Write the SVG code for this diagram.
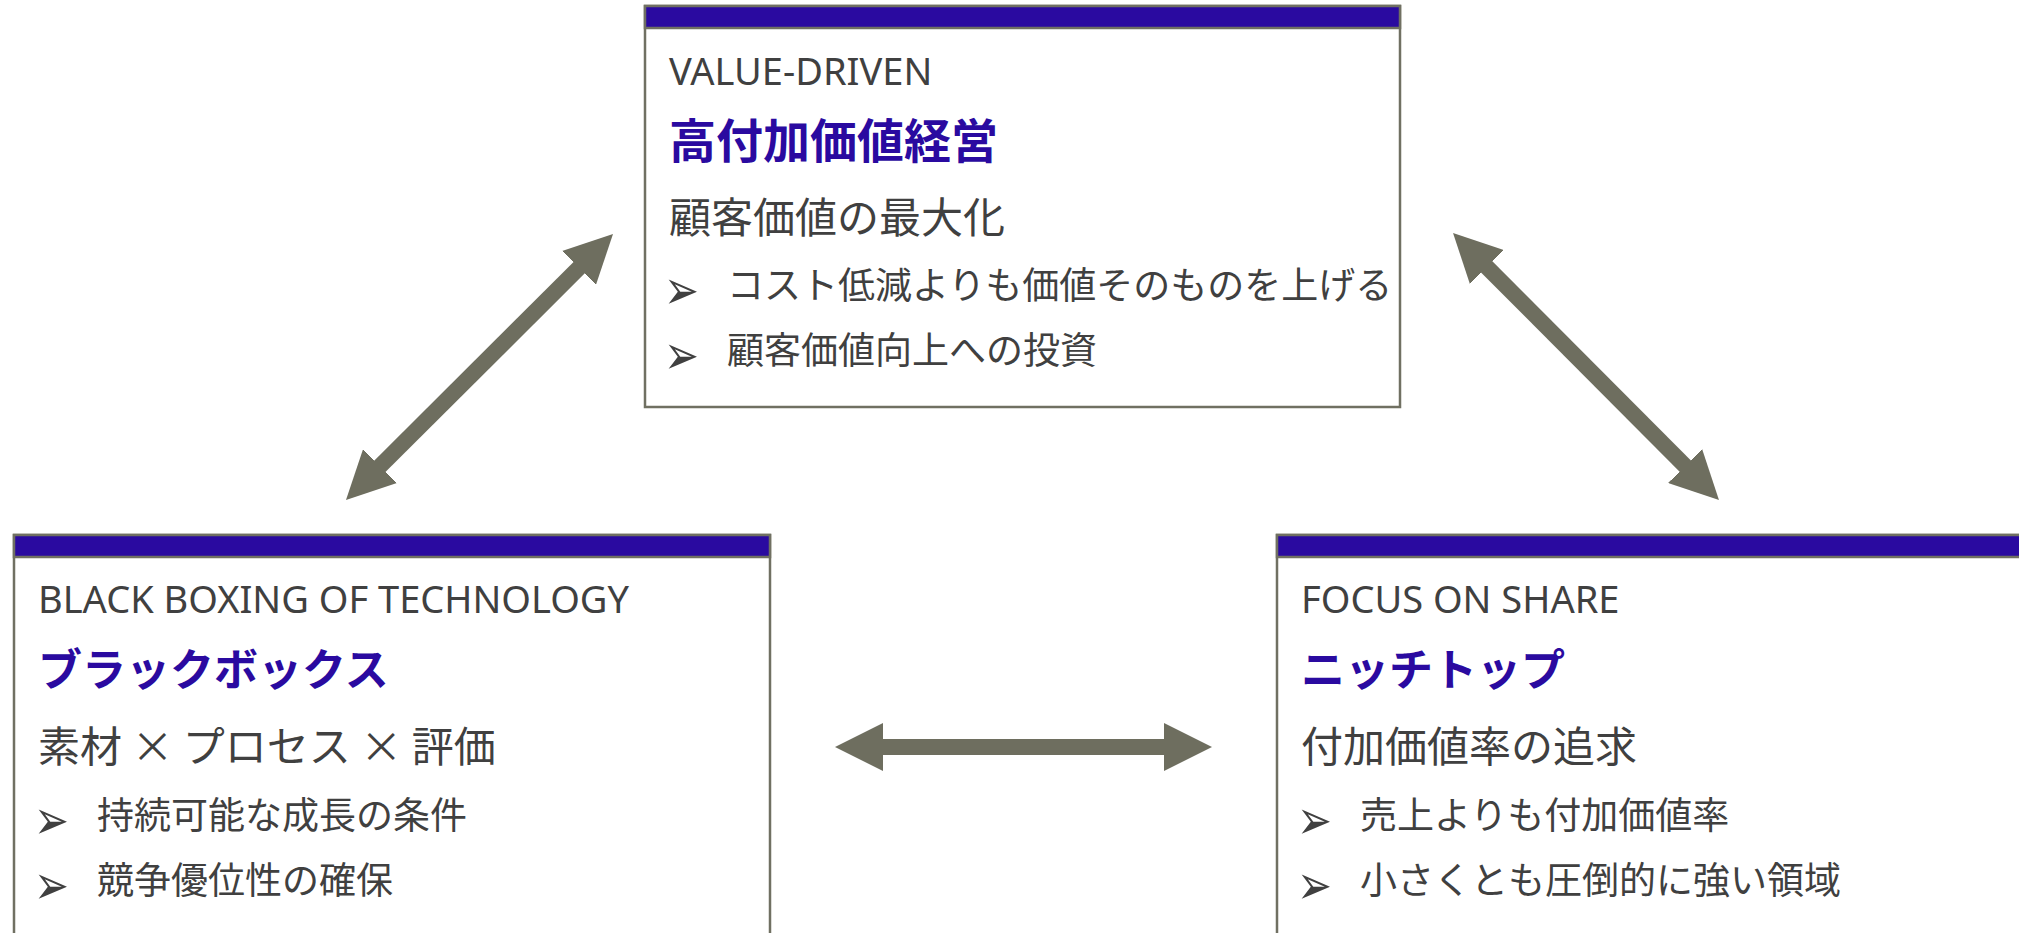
<svg xmlns="http://www.w3.org/2000/svg" width="2019" height="933" viewBox="0 0 2019 933">
<style>
.box{fill:#ffffff;stroke:#707062;stroke-width:2.5}
.bar{fill:#2A0AA0;stroke:#707062;stroke-width:2.5}
.lbl{font-family:"Noto Sans","Noto Sans CJK JP",sans-serif;font-size:38px;fill:#404040}
.ttl{font-family:"Noto Sans CJK JP",sans-serif;font-weight:bold;fill:#2A0AA0}
.sub{font-family:"Noto Sans CJK JP",sans-serif;font-size:42px;fill:#404040}
.blt{font-family:"Noto Sans CJK JP",sans-serif;font-size:37px;fill:#404040}
.mk{font-family:"DejaVu Sans",sans-serif;font-size:44px;fill:#404040}
.conn{stroke:#6E6E5F;stroke-width:16;fill:none;marker-start:url(#ah);marker-end:url(#ah)}
</style>
<defs>
<marker id="ah" markerUnits="userSpaceOnUse" markerWidth="50" markerHeight="48" viewBox="0 0 50 48" refX="1" refY="24" orient="auto-start-reverse">
<path d="M0,0 L48,24 L0,48 Z" fill="#6E6E5F"/>
</marker>
</defs>
<rect x="0" y="0" width="2019" height="933" fill="#ffffff"/>
<g id="node-value">
<rect class="box" x="645" y="6" width="755" height="401"/>
<rect class="bar" x="645" y="6" width="755" height="22"/>
<text class="lbl" x="669" y="85">VALUE-DRIVEN</text>
<text class="ttl" x="669" y="158" font-size="47">高付加価値経営</text>
<text class="sub" x="669" y="233">顧客価値の最大化</text>
<text class="mk" transform="translate(664,309) scale(0.95,1.26)">➢</text>
<text class="blt" x="727" y="299">コスト低減よりも価値そのものを上げる</text>
<text class="mk" transform="translate(664,374) scale(0.95,1.26)">➢</text>
<text class="blt" x="727" y="364">顧客価値向上への投資</text>
</g>
<g id="node-blackbox">
<rect class="box" x="14" y="535" width="756" height="430"/>
<rect class="bar" x="14" y="535" width="756" height="22"/>
<text class="lbl" x="38" y="613">BLACK BOXING OF TECHNOLOGY</text>
<text class="ttl" x="38" y="686" font-size="44">ブラックボックス</text>
<text class="sub" x="38" y="762">素材 × プロセス × 評価</text>
<text class="mk" transform="translate(34,839) scale(0.95,1.26)">➢</text>
<text class="blt" x="97" y="829">持続可能な成長の条件</text>
<text class="mk" transform="translate(34,904) scale(0.95,1.26)">➢</text>
<text class="blt" x="97" y="894">競争優位性の確保</text>
</g>
<g id="node-niche">
<rect class="box" x="1277" y="535" width="770" height="430"/>
<rect class="bar" x="1277" y="535" width="770" height="22"/>
<text class="lbl" x="1301" y="613">FOCUS ON SHARE</text>
<text class="ttl" x="1301" y="686" font-size="44">ニッチトップ</text>
<text class="sub" x="1301" y="762">付加価値率の追求</text>
<text class="mk" transform="translate(1297,839) scale(0.95,1.26)">➢</text>
<text class="blt" x="1360" y="829">売上よりも付加価値率</text>
<text class="mk" transform="translate(1297,904) scale(0.95,1.26)">➢</text>
<text class="blt" x="1360" y="894">小さくとも圧倒的に強い領域</text>
</g>
<g id="connectors">
<line class="conn" x1="379.3" y1="466.8" x2="579.7" y2="267.2"/>
<line class="conn" x1="1486.2" y1="266.3" x2="1685.8" y2="466.7"/>
<line class="conn" x1="882" y1="747" x2="1165" y2="747"/>
</g>
</svg>
